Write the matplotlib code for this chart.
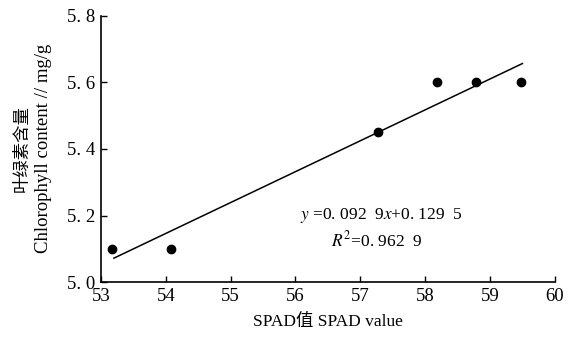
import matplotlib.pyplot as plt
import numpy as np

plt.rcParams['font.family'] = ['Liberation Serif', 'Noto Sans CJK SC']
plt.rcParams['mathtext.fontset'] = 'stix'

# 数据
spad = [53.17, 54.08, 57.27, 58.18, 58.78, 59.48]
chl = [5.10, 5.10, 5.45, 5.60, 5.60, 5.60]
slope, intercept = 0.0929, 0.1295
fit_x = [53.2, 59.5]
x_ticks = [53, 54, 55, 56, 57, 58, 59, 60]
y_ticks = [5.0, 5.2, 5.4, 5.6, 5.8]

fig = plt.figure(figsize=(5.76, 3.43), dpi=100)
ax = fig.add_axes([0.1753, 0.1778, 0.788, 0.7756])

ax.scatter(spad, chl, s=36, color='black', zorder=3)
fx = np.array(fit_x)
ax.plot(fx, slope * fx + intercept, color='black', lw=1.1)

ax.set_xlim(53, 60)
ax.set_ylim(5.0, 5.8)
ax.set_xticks(x_ticks)
ax.set_yticks(y_ticks)
ax.set_yticklabels([f'{v:.1f}'.replace('.', '. ') for v in y_ticks])
ax.tick_params(direction='in', length=4, width=1, labelsize=13.5, pad=4)
for s in ['top', 'right']:
    ax.spines[s].set_visible(False)
for s in ['left', 'bottom']:
    ax.spines[s].set_linewidth(1.2)

ax.set_xlabel('SPAD值 SPAD value', fontsize=12.5, labelpad=7)
# 两行纵轴标题分开放置
fig.text(0.040, 0.568, '叶绿素含量', rotation=90, fontsize=12.5,
         ha='center', va='center')
fig.text(0.076, 0.568, 'Chlorophyll content // mg/g', rotation=90,
         fontsize=13.5, ha='center', va='center')

ax.text(56.07, 5.2, r'$y$ =0. 092  9$x$+0. 129  5', fontsize=12.5, va='center')
ax.text(56.54, 5.125, r'$R^2$=0. 962  9', fontsize=12.5, va='center')

fig.savefig('out.png', dpi=100, facecolor='white')
